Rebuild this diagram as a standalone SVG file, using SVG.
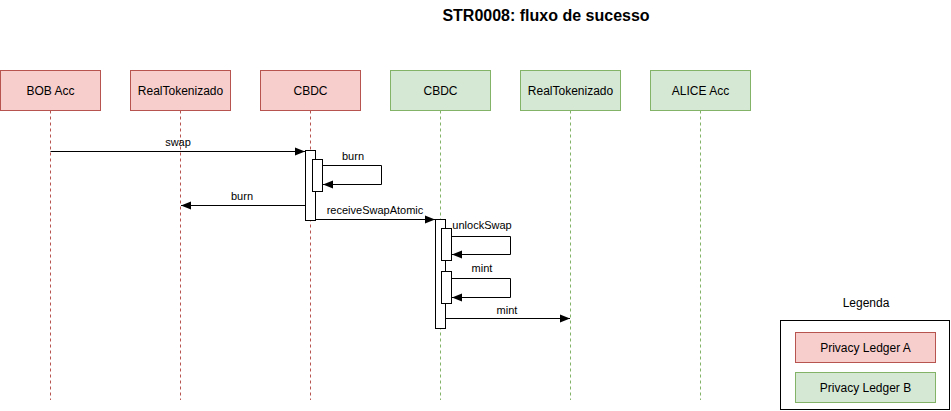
<svg xmlns="http://www.w3.org/2000/svg" width="951" height="411" viewBox="0 0 951 411">
<style>
text{font-family:"Liberation Sans",Arial,sans-serif;fill:#000}
.lbl{font-size:12px;text-anchor:middle}
.msg{font-size:11px;text-anchor:middle}
.a{fill:#f8cecc;stroke:#b85450;stroke-width:1}
.b{fill:#d5e8d4;stroke:#82b366;stroke-width:1}
.la{stroke:#b85450;stroke-dasharray:3 3;fill:none}
.lb{stroke:#82b366;stroke-dasharray:3 3;fill:none}
.act{fill:#fff;stroke:#000;stroke-width:1}
.e{fill:none;stroke:#000;stroke-width:1}
</style>
<defs>
<marker id="ah" viewBox="0 0 10 10" refX="10" refY="5" markerWidth="10" markerHeight="10" markerUnits="userSpaceOnUse" orient="auto">
<path d="M0,1 L10,5 L0,9 Z" fill="#000"/>
</marker>
</defs>
<text x="546" y="21" style="font-size:16px;font-weight:bold;text-anchor:middle">STR0008: fluxo de sucesso</text>
<g id="bob">
<rect class="a" x="0.5" y="70.5" width="100" height="40"/>
<text class="lbl" x="50.5" y="94.5">BOB Acc</text>
<line class="la" x1="50.5" y1="110.5" x2="50.5" y2="400"/>
</g>
<g id="realA">
<rect class="a" x="130.5" y="70.5" width="100" height="40"/>
<text class="lbl" x="180.5" y="94.5">RealTokenizado</text>
<line class="la" x1="180.5" y1="110.5" x2="180.5" y2="400"/>
</g>
<g id="cbdcA">
<rect class="a" x="260.5" y="70.5" width="100" height="40"/>
<text class="lbl" x="310.5" y="94.5">CBDC</text>
<line class="la" x1="310.5" y1="110.5" x2="310.5" y2="400"/>
<rect class="act" x="305.5" y="150.5" width="10" height="70"/>
<rect class="act" x="312.5" y="159.5" width="10" height="32"/>
</g>
<g id="cbdcB">
<rect class="b" x="390.5" y="70.5" width="100" height="40"/>
<text class="lbl" x="440.5" y="94.5">CBDC</text>
<line class="lb" x1="440.5" y1="110.5" x2="440.5" y2="400"/>
<rect class="act" x="435.5" y="219.5" width="10" height="109"/>
<rect class="act" x="441.5" y="228.5" width="10" height="32"/>
<rect class="act" x="441.5" y="271.5" width="10" height="32"/>
</g>
<g id="realB">
<rect class="b" x="520.5" y="70.5" width="100" height="40"/>
<text class="lbl" x="570.5" y="94.5">RealTokenizado</text>
<line class="lb" x1="570.5" y1="110.5" x2="570.5" y2="400"/>
</g>
<g id="alice">
<rect class="b" x="650.5" y="70.5" width="100" height="40"/>
<text class="lbl" x="700.5" y="94.5">ALICE Acc</text>
<line class="lb" x1="700.5" y1="110.5" x2="700.5" y2="400"/>
</g>
<g id="connectors">
<line class="e" x1="50.5" y1="151.5" x2="305" y2="151.5" marker-end="url(#ah)"/>
<text class="msg" x="178" y="146">swap</text>
<polyline class="e" points="322.5,165.5 381.5,165.5 381.5,184.5 323,184.5" marker-end="url(#ah)"/>
<text class="msg" x="353" y="160">burn</text>
<line class="e" x1="305.5" y1="205.5" x2="181" y2="205.5" marker-end="url(#ah)"/>
<text class="msg" x="242" y="200">burn</text>
<line class="e" x1="315.5" y1="219.5" x2="435" y2="219.5" marker-end="url(#ah)"/>
<text class="msg" x="375" y="214">receiveSwapAtomic</text>
<polyline class="e" points="451.5,236.5 510.5,236.5 510.5,254.5 452,254.5" marker-end="url(#ah)"/>
<text class="msg" x="482" y="229">unlockSwap</text>
<polyline class="e" points="451.5,278.5 510.5,278.5 510.5,297.5 452,297.5" marker-end="url(#ah)"/>
<text class="msg" x="482" y="272">mint</text>
<line class="e" x1="445.5" y1="318.5" x2="570" y2="318.5" marker-end="url(#ah)"/>
<text class="msg" x="507" y="314">mint</text>
</g>
<g id="legend">
<text class="lbl" x="866" y="307">Legenda</text>
<rect x="780.5" y="320.5" width="169" height="89" fill="#fff" stroke="#000"/>
<rect class="a" x="795.5" y="332.5" width="140" height="30"/>
<text class="lbl" x="865.5" y="351.5">Privacy Ledger A</text>
<rect class="b" x="795.5" y="372.5" width="140" height="30"/>
<text class="lbl" x="865.5" y="391.5">Privacy Ledger B</text>
</g>
</svg>
